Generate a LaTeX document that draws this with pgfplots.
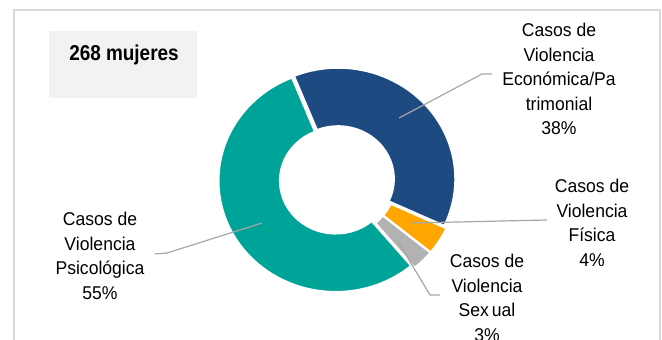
\documentclass[border=0pt]{standalone}
\usepackage{pgfplots}
\pgfplotsset{compat=1.18}
\usepackage{pgfplotstable}
\usepackage{fontspec}
\setmainfont{Liberation Sans}
\newfontfamily\labfont{Liberation Sans}[FakeStretch=0.95]
\newfontfamily\titlefont{Liberation Sans Bold}[FakeStretch=0.88]
\definecolor{cblue}{RGB}{30,74,130}
\definecolor{cteal}{RGB}{0,163,152}
\definecolor{corange}{RGB}{255,166,0}
\definecolor{cgray}{RGB}{178,178,178}
\definecolor{cframe}{RGB}{217,217,217}
\definecolor{ctitle}{RGB}{242,242,242}
\definecolor{clead}{RGB}{166,166,166}

% percentages of the 268 women, clockwise from the top
\pgfplotstableread[col sep=comma]{
key,value,color,explode
Economica,38,cblue,1.5
Fisica,4,corange,3.5
Sexual,3,cgray,3.5
Psicologica,55,cteal,1.5
}\slices

\begin{document}
\begin{tikzpicture}
\begin{axis}[
  name=ax, at={(0,0)}, anchor=south west,
  width=662bp, height=340bp, scale only axis,
  xmin=0, xmax=662, ymin=0, ymax=340,
  hide axis,
]
\addplot[draw=none] coordinates {(0,0)};
% frame and title box
\draw[cframe, line width=1.2bp] (axis cs:14,-20) rectangle (axis cs:660,330);
\fill[ctitle] (axis cs:49,242) rectangle (axis cs:197,309);
\node[font=\titlefont\fontsize{21.5bp}{26bp}\selectfont, inner sep=0pt] at (axis cs:124,285) {268 mujeres};
% donut slices from the table
\pgfplotsextra{%
  \gdef\cur{112}%
  \foreach \i in {0,...,3}{%
    \pgfplotstablegetelem{\i}{value}\of\slices \let\slv=\pgfplotsretval
    \pgfplotstablegetelem{\i}{color}\of\slices \let\slc=\pgfplotsretval
    \pgfplotstablegetelem{\i}{explode}\of\slices \let\sle=\pgfplotsretval
    \pgfmathsetmacro\sla{\cur}%
    \pgfmathsetmacro\slb{\cur-3.6*\slv}%
    \pgfmathsetmacro\slm{(\sla+\slb)/2}%
    \filldraw[fill=\slc, draw=white, line width=1.6bp, shift={(axis cs:337,160)}, shift={(\slm:\sle bp)}]
      (\sla:117bp and 111bp) arc[start angle=\sla, end angle=\slb, x radius=117bp, y radius=111bp]
      -- (\slb:56bp and 53bp) arc[start angle=\slb, end angle=\sla, x radius=56bp, y radius=53bp] -- cycle;
    \xdef\cur{\slb}%
  }%
}
% leader lines
\draw[clead, line width=1.2bp] (axis cs:399,222) -- (axis cs:482,266) -- (axis cs:492,266);
\draw[clead, line width=1.2bp] (axis cs:412,117) -- (axis cs:547,120);
\draw[clead, line width=1.2bp] (axis cs:397,100) -- (axis cs:430,45) -- (axis cs:440,45);
\draw[clead, line width=1.2bp] (axis cs:262,117) -- (axis cs:167,87) -- (axis cs:155,86);
% labels
\tikzset{lab/.style={font=\labfont\fontsize{18.5bp}{24.5bp}\selectfont, align=center, inner sep=0pt}}
\node[lab] at (axis cs:559,261) {Casos de\\Violencia\\Económica/Pa\\trimonial\\38\%};
\node[lab] at (axis cs:592,117) {Casos de\\Violencia\\Física\\4\%};
\node[lab] at (axis cs:487,42) {Casos de\\Violencia\\Sex\,ual\\3\%};
\node[lab] at (axis cs:100,84) {Casos de\\Violencia\\Psicológica\\55\%};
\end{axis}
\pgfresetboundingbox
\path (ax.south west) rectangle (ax.north east);
\end{tikzpicture}
\end{document}
